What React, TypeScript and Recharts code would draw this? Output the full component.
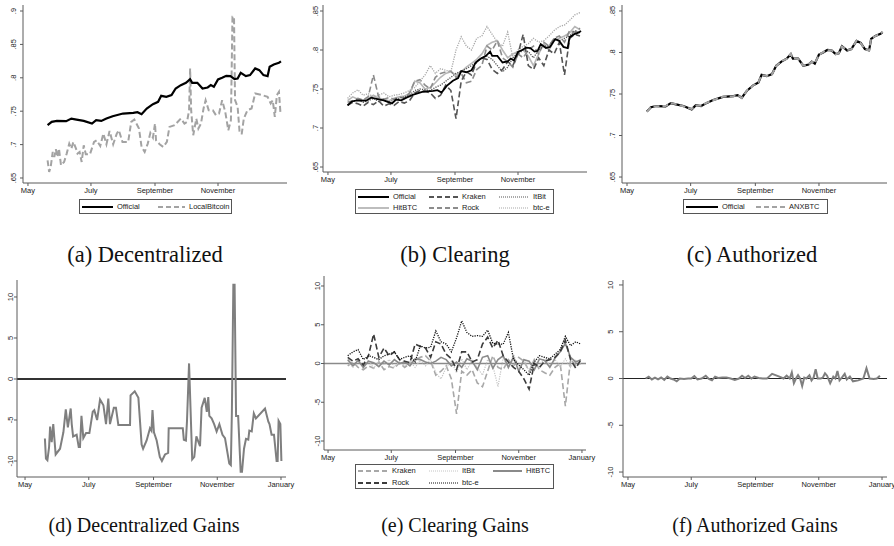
import React from 'react';
import { LineChart, Line, XAxis, YAxis, ReferenceLine } from 'recharts';

const SANS = "'Liberation Sans', Arial, sans-serif";
const SERIF = "'Liberation Serif', 'Times New Roman', serif";
const AXIS = '#5a5a5a';

// x values are days since May 1
const MONTH_TICKS = [0, 61, 123, 184];
const MONTH_TICKS_JAN = [0, 61, 123, 184, 245];
const MONTHS: Record<number, string> = { 0: 'May', 61: 'July', 123: 'September', 184: 'November', 245: 'January' };
const PRICE_TICKS_A = [0.65, 0.7, 0.75, 0.8, 0.85, 0.9];
const PRICE_TICKS = [0.65, 0.7, 0.75, 0.8, 0.85];
const GAIN_TICKS = [-10, -5, 0, 5, 10];

// official rate
const OFF_DAYS = [19, 23, 28, 37, 42, 47, 54, 62, 66, 71, 76, 82, 92, 102, 106, 110, 115, 121, 126, 129, 134, 139, 143, 148, 153, 157, 159, 164, 169, 174, 177, 180, 184, 188, 192, 196, 200, 203, 206, 211, 215, 220, 224, 228, 232, 234, 238, 243, 245];
const OFF_VALS = [.729, .734, .7355, .735, .739, .7375, .7355, .7315, .7365, .7355, .739, .7425, .7465, .7475, .7485, .7455, .754, .7605, .764, .773, .7715, .774, .784, .789, .7925, .798, .7925, .7925, .784, .7855, .789, .7865, .7975, .8, .803, .8025, .798, .799, .8075, .8025, .804, .814, .8115, .804, .8025, .8165, .82, .8225, .8245];
const ANX_VALS = [.7285, .7345, .7352, .7355, .7388, .7378, .7352, .7318, .7362, .7358, .7392, .7422, .7468, .7472, .7488, .7452, .7542, .7602, .7645, .7728, .7718, .7738, .7838, .7895, .7922, .7985, .7928, .7922, .7842, .7858, .7888, .7868, .7972, .8005, .8028, .8028, .7978, .7992, .8072, .8028, .8038, .8142, .8112, .8042, .8022, .8168, .8198, .8228, .8248];

// LocalBitcoin
const LB_DAYS = [19, 20.5, 22, 24, 25.5, 27, 28.5, 30, 32, 35, 37.5, 40, 42, 44, 46.5, 48, 50, 52, 54, 56, 60, 64, 66.5, 70, 73, 76, 79, 82.5, 86, 88, 91.5, 97, 100, 103, 107.5, 110, 113, 116, 118.5, 121, 123, 124, 127.5, 131, 134.5, 137, 142, 148, 151.5, 154, 156, 157, 158, 160, 163, 165, 167.5, 170, 172, 175, 179, 182, 185, 188, 191, 194, 196.5, 198, 199.5, 200.5, 203, 205, 207, 209, 212.5, 216.5, 220, 227, 232, 235, 237, 239, 241, 243, 244.5];
const LB_VALS = [.6765, .659, .6665, .689, .6815, .693, .6815, .694, .669, .674, .6865, .7015, .694, .704, .694, .6865, .689, .674, .699, .6855, .6855, .704, .7065, .698, .7165, .7005, .7205, .7005, .7165, .7215, .704, .704, .734, .7375, .724, .6965, .689, .7015, .7175, .7105, .7315, .7065, .7005, .6965, .704, .7265, .729, .739, .7315, .734, .7515, .814, .7515, .714, .739, .724, .7315, .754, .7665, .7515, .7515, .744, .7465, .7665, .749, .7215, .7365, .8915, .8915, .7665, .7565, .7165, .7165, .739, .7515, .754, .7765, .774, .7715, .7615, .7665, .7415, .774, .779, .7465];

// clearing exchanges (every 5 days)
const GRID = [19, 24, 29, 34, 39, 44, 49, 54, 59, 64, 69, 74, 79, 84, 89, 94, 99, 104, 109, 114, 119, 124, 129, 134, 139, 144, 149, 154, 159, 164, 169, 174, 179, 184, 189, 194, 199, 204, 209, 214, 219, 224, 229, 234, 239, 244];
const HIT_VALS = [.735, .740, .737, .735, .738, .742, .738, .737, .735, .738, .740, .741, .744, .760, .758, .750, .752, .758, .765, .770, .772, .768, .772, .778, .783, .788, .795, .806, .810, .812, .800, .790, .795, .798, .800, .792, .780, .795, .808, .800, .812, .815, .818, .822, .830, .826];
const KRAKEN_VALS = [.729, .733, .731, .728, .733, .730, .735, .728, .731, .729, .734, .732, .735, .745, .748, .747, .745, .738, .742, .755, .748, .712, .760, .772, .768, .785, .790, .788, .775, .770, .775, .785, .780, .795, .820, .780, .775, .790, .780, .800, .795, .810, .768, .815, .820, .818];
const ROCK_VALS = [.733, .735, .738, .736, .740, .768, .740, .737, .739, .737, .740, .738, .745, .760, .762, .755, .750, .765, .770, .772, .773, .765, .770, .758, .760, .775, .780, .805, .800, .812, .790, .785, .778, .795, .790, .800, .805, .795, .810, .805, .815, .818, .810, .825, .822, .828];
const ITBIT_VALS = [.730, .734, .736, .733, .735, .738, .734, .736, .733, .736, .738, .740, .742, .748, .750, .749, .748, .752, .755, .760, .765, .770, .773, .776, .780, .785, .790, .792, .788, .780, .772, .778, .790, .795, .800, .798, .790, .800, .805, .805, .815, .812, .815, .818, .825, .822];
const BTCE_VALS = [.738, .745, .749, .742, .744, .740, .742, .745, .740, .742, .743, .745, .748, .752, .760, .768, .780, .770, .776, .774, .772, .800, .817, .805, .800, .815, .818, .830, .820, .810, .805, .823, .790, .800, .805, .808, .815, .810, .812, .818, .825, .830, .832, .838, .845, .848];

// gains, percent
const D_DAYS = [19, 20, 21.4, 23, 24, 25.5, 27, 29.3, 33.5, 36.7, 39, 41, 43.7, 44.7, 46, 49.4, 51.4, 52.6, 54, 55.8, 58.4, 61.6, 64.8, 66.3, 69, 71.8, 75, 77.5, 79.7, 81.3, 85, 87, 89.3, 100.5, 101, 105, 108.5, 111.6, 113, 116.4, 119.6, 121, 122, 123.4, 126, 129, 131, 134, 137, 137.5, 151, 152, 154, 155, 157, 160, 162, 164, 167.5, 169, 172, 174, 175.4, 176.4, 178.6, 181, 183.4, 186, 189, 191.4, 195.5, 197, 198, 199.4, 200.6, 202, 204, 206.4, 207.7, 209.6, 211.5, 213.7, 214.7, 217, 219, 221, 229.7, 232.9, 234, 236, 238.3, 240.8, 241.8, 242.7, 244.4, 245.4];
const D_VALS = [-7.25, -9.7, -9.9, -8.3, -5.8, -7.7, -5.5, -9.2, -8.5, -6.5, -3.7, -5.9, -3.6, -5.5, -7.0, -6.8, -8.3, -8.3, -4.5, -7.2, -6.6, -6.6, -4.0, -3.8, -5.0, -2.5, -3.2, -5.5, -2.4, -5.5, -3.5, -3.5, -5.6, -5.6, -2.0, -1.5, -2.3, -8.0, -8.5, -7.5, -6.0, -6.3, -3.8, -6.5, -7.5, -9.5, -10.0, -9.2, -9.0, -6.0, -6.0, -7.4, -7.5, -5.2, 1.9, -9.8, -9.5, -7.0, -8.2, -3.5, -2.3, -4.0, -2.2, -4.5, -4.8, -5.5, -6.4, -5.5, -6.8, -7.2, -10.3, -10.5, -4.0, 11.5, 11.5, -4.5, -4.5, -11.3, -11.3, -8.5, -7.3, -7.4, -6.3, -6.4, -4.2, -4.8, -3.6, -5.2, -5.5, -6.8, -6.8, -10.0, -10.0, -5.1, -5.5, -10.0];

const E_KRAKEN = [-0.3, 0.2, -0.5, -0.8, -0.3, -0.6, 0.2, -0.8, -0.4, -0.6, 0.1, -0.5, 0.0, 0.4, 0.8, 1.0, 0.3, -1.5, -1.0, -0.3, -2.0, -6.5, -1.0, -1.5, -0.8, -2.5, -3.0, -1.0, 1.0, -0.5, -0.8, 0.5, -0.3, 0.8, 0.3, -1.0, 0.5, -0.8, -1.2, -1.5, -0.5, 0.0, -5.5, 0.5, -0.2, 0.0];
const E_ITBIT = [0.2, -0.5, 0.5, -0.3, 0.4, -0.6, 0.3, -0.2, 0.5, -0.4, 0.2, -0.3, 0.3, -0.5, 0.4, -0.3, 0.5, -1.2, -2.0, -0.5, 0.3, -1.2, 0.6, -0.8, 0.4, -0.5, -1.5, 0.5, -0.3, -3.0, 0.8, -0.6, 1.2, -0.8, 0.5, -1.0, 0.3, -0.5, 0.8, -0.3, 0.5, -0.4, 0.6, -0.5, 0.4, -0.2];
const E_HIT = [0.5, -0.3, 0.4, -0.5, 0.3, 0.1, -0.4, 0.3, -0.2, 0.5, 0.0, 0.2, -0.3, 0.6, 0.5, 0.2, 0.0, 0.3, 0.8, 0.5, -0.3, 0.2, -0.5, 0.6, 0.3, -0.8, 0.8, 1.0, -0.6, 0.5, 1.0, -0.5, 0.8, -1.0, 0.5, 0.3, -0.8, 0.6, 0.4, -0.5, 0.7, 1.5, 2.6, 0.8, 0.2, 0.5];
const E_ROCK = [0.8, 0.3, 0.6, -0.2, 1.0, 3.8, 0.8, 2.0, 1.0, 1.5, 0.5, 0.3, 0.1, 2.5, 2.2, 2.0, 0.8, 2.8, 2.5, 1.2, 0.6, -0.8, 1.5, 1.5, 0.2, 0.5, 2.5, 3.4, 2.0, 3.0, 1.0, 0.2, -0.5, -1.0, -2.0, -3.3, 0.0, -0.5, 0.3, 0.5, 0.8, 1.5, 3.0, 0.5, -0.6, 0.5];
const E_BTCE = [1.0, 1.5, 1.8, 0.5, 1.0, 0.8, 0.5, 1.0, 1.2, 1.5, 0.5, 0.8, 1.0, 0.2, 2.3, 2.0, 2.1, 4.2, 2.8, 2.5, 1.5, 3.3, 5.5, 4.0, 3.5, 3.6, 3.5, 4.3, 2.6, 2.5, 2.5, 4.0, 0.5, -0.2, -0.8, -1.5, 0.2, 1.0, 0.8, 0.6, 1.2, 1.8, 3.5, 2.3, 2.8, 2.5];

const F_DAYS = [17, 20, 23, 26, 29, 32, 35, 38, 41, 44, 47, 50, 54, 58, 61, 64, 67, 71, 75, 78, 81, 84, 87, 91, 95, 99, 103, 107, 110, 113, 116, 119, 122, 126, 130, 134, 136, 139, 146, 150, 153, 156, 158, 160, 162, 164, 166, 168, 170, 172, 175, 177, 179, 181, 183, 186, 188, 190, 192, 195, 198, 200, 202, 204, 207, 209, 211, 214, 217, 222, 227, 230, 233, 237, 240, 243];
const F_VALS = [0.0, 0.2, -0.1, 0.1, -0.1, 0.1, -0.15, 0.2, 0.0, -0.1, -0.3, 0.0, -0.05, 0.0, 0.0, 0.25, -0.1, 0.0, 0.3, -0.05, -0.2, 0.2, 0.05, 0.1, 0.1, 0.0, -0.15, 0.0, 0.3, 0.05, 0.3, 0.0, 0.2, 0.05, 0.0, 0.0, 0.2, 0.5, 0.2, 0.0, 0.3, 0.0, 0.65, -0.5, 0.0, 0.35, 0.0, -0.8, 0.1, 0.0, 0.35, -0.2, 0.1, 1.0, 0.0, 0.0, 0.1, 0.55, 0.3, -0.5, 0.2, 0.0, 0.8, -0.2, 0.2, 0.5, -0.1, 0.2, -0.3, -0.2, 0.0, 1.1, 0.0, -0.05, 0.0, 0.3];

const pts = (days: number[], vals: number[]) => days.map((d, i) => ({ d, v: vals[i] }));
const priceFmt = (v: number) => String(v).replace(/^0/, '');
const gainFmt = (v: number) => String(v);

type Series = { name: string; days: number[]; vals: number[]; stroke: string; width: number; dash?: string };

function YTick(props: any) {
  const { x, y, payload, fmt } = props;
  return (
    <text x={x} y={y} transform={`rotate(-90 ${x} ${y})`} textAnchor="middle" fontSize={7.5} fill="#222" fontFamily={SANS}>
      {fmt(payload.value)}
    </text>
  );
}

function Panel(p: {
  left: number; top: number; width: number; height: number;
  margin: { top: number; right: number; bottom: number; left: number };
  yWidth: number; xDomain: number[]; yDomain: number[]; xTicks: number[]; yTicks: number[];
  yFmt: (v: number) => string; yTickSize: number; yTickMargin: number;
  series: Series[]; zero?: { stroke: string; width: number };
}) {
  return (
    <div style={{ position: 'absolute', left: p.left, top: p.top }}>
      <LineChart width={p.width} height={p.height} margin={p.margin}>
        <XAxis dataKey="d" type="number" domain={p.xDomain} ticks={p.xTicks} interval={0} allowDataOverflow
          tickFormatter={(v: number) => MONTHS[v]} height={17} tickSize={3} tickMargin={2} stroke={AXIS}
          tick={{ fontSize: 7.5, fill: '#222', fontFamily: SANS }} />
        <XAxis xAxisId="top" orientation="top" type="number" domain={[0, 1]} tick={false} tickLine={false} height={0} stroke={AXIS} />
        <YAxis type="number" domain={p.yDomain} ticks={p.yTicks} interval={0} allowDataOverflow width={p.yWidth}
          tickSize={p.yTickSize} tickMargin={p.yTickMargin} stroke={AXIS} tick={<YTick fmt={p.yFmt} />} />
        <YAxis yAxisId="right" orientation="right" type="number" domain={[0, 1]} tick={false} tickLine={false} width={0} stroke={AXIS} />
        {p.zero && <ReferenceLine y={0} stroke={p.zero.stroke} strokeWidth={p.zero.width} />}
        {p.series.map((s) => (
          <Line key={s.name} data={pts(s.days, s.vals)} dataKey="v" type="linear" stroke={s.stroke} strokeWidth={s.width}
            strokeDasharray={s.dash} dot={false} isAnimationActive={false} />
        ))}
      </LineChart>
    </div>
  );
}

type LegendItem = { label: string; stroke: string; width: number; dash?: string; x: number; y: number; sw: number };

function LegendBox({ left, top, width, height, items }: { left: number; top: number; width: number; height: number; items: LegendItem[] }) {
  return (
    <div style={{ position: 'absolute', left, top, width, height, border: '1px solid #555', boxSizing: 'border-box' }}>
      {items.map((it) => (
        <div key={it.label} style={{ position: 'absolute', left: it.x, top: it.y - 5, height: 10, display: 'flex', alignItems: 'center' }}>
          <svg width={it.sw} height={10} style={{ display: 'block' }}>
            <line x1={0} y1={5} x2={it.sw} y2={5} stroke={it.stroke} strokeWidth={it.width} strokeDasharray={it.dash} />
          </svg>
          <span style={{ marginLeft: 4, fontSize: 7.5, fontFamily: SANS, color: '#222', lineHeight: '10px', whiteSpace: 'nowrap' }}>{it.label}</span>
        </div>
      ))}
    </div>
  );
}

function Caption({ cx, top, size, text }: { cx: number; top: number; size: number; text: string }) {
  return (
    <div style={{ position: 'absolute', left: cx - 150, top, width: 300, textAlign: 'center', fontFamily: SERIF, fontSize: size, lineHeight: `${size}px`, color: '#111' }}>
      {text}
    </div>
  );
}

const DASH = '6 3';
const DOT = '1.2 1.2';

export default function App() {
  return (
    <div style={{ position: 'absolute', left: 0, top: 0, width: 894, height: 546, background: '#fff', overflow: 'hidden' }}>
      <Panel left={0} top={0} width={300} height={200} margin={{ top: 5, right: 13, bottom: 0, left: 0 }} yWidth={23}
        xDomain={[-4.8, 250.8]} yDomain={[0.6425, 0.909]} xTicks={MONTH_TICKS} yTicks={PRICE_TICKS_A} yFmt={priceFmt}
        yTickSize={3} yTickMargin={4}
        series={[
          { name: 'LocalBitcoin', days: LB_DAYS, vals: LB_VALS, stroke: '#a3a3a3', width: 2, dash: DASH },
          { name: 'Official', days: OFF_DAYS, vals: OFF_VALS, stroke: '#000', width: 2.2 },
        ]} />
      <Panel left={300} top={0} width={300} height={189} margin={{ top: 5, right: 13, bottom: 0, left: 0 }} yWidth={23}
        xDomain={[-4.8, 250.8]} yDomain={[0.6436, 0.8577]} xTicks={MONTH_TICKS} yTicks={PRICE_TICKS} yFmt={priceFmt}
        yTickSize={3} yTickMargin={2}
        series={[
          { name: 'HitBTC', days: GRID, vals: HIT_VALS, stroke: '#b8b8b8', width: 1.6 },
          { name: 'Rock', days: GRID, vals: ROCK_VALS, stroke: '#8c8c8c', width: 1.6, dash: DASH },
          { name: 'btc-e', days: GRID, vals: BTCE_VALS, stroke: '#a8a8a8', width: 1.3, dash: DOT },
          { name: 'ItBit', days: GRID, vals: ITBIT_VALS, stroke: '#555', width: 1.3, dash: DOT },
          { name: 'Kraken', days: GRID, vals: KRAKEN_VALS, stroke: '#555', width: 1.6, dash: DASH },
          { name: 'Official', days: OFF_DAYS, vals: OFF_VALS, stroke: '#000', width: 1.8 },
        ]} />
      <Panel left={599} top={0} width={295} height={200} margin={{ top: 5, right: 7, bottom: 0, left: 0 }} yWidth={23}
        xDomain={[-4.8, 249.2]} yDomain={[0.6428, 0.8572]} xTicks={MONTH_TICKS} yTicks={PRICE_TICKS} yFmt={priceFmt}
        yTickSize={3} yTickMargin={4}
        series={[
          { name: 'Official', days: OFF_DAYS, vals: OFF_VALS, stroke: '#000', width: 2.2 },
          { name: 'ANXBTC', days: OFF_DAYS, vals: ANX_VALS, stroke: '#a3a3a3', width: 2, dash: DASH },
        ]} />
      <Panel left={0} top={270} width={300} height={224} margin={{ top: 10, right: 14, bottom: 0, left: 0 }} yWidth={17}
        xDomain={[-7.7, 249.8]} yDomain={[-11.95, 12.07]} xTicks={MONTH_TICKS_JAN} yTicks={GAIN_TICKS} yFmt={gainFmt}
        yTickSize={3} yTickMargin={1} zero={{ stroke: '#333', width: 2 }}
        series={[{ name: 'Decentralized', days: D_DAYS, vals: D_VALS, stroke: '#7f7f7f', width: 2 }]} />
      <Panel left={300} top={270} width={300} height={197} margin={{ top: 6, right: 14, bottom: 0, left: 0 }} yWidth={24}
        xDomain={[-3.9, 248.9]} yDomain={[-11.16, 11.29]} xTicks={MONTH_TICKS_JAN} yTicks={GAIN_TICKS} yFmt={gainFmt}
        yTickSize={3} yTickMargin={1} zero={{ stroke: '#8a8a8a', width: 1.5 }}
        series={[
          { name: 'Kraken', days: GRID, vals: E_KRAKEN, stroke: '#a8a8a8', width: 1.6, dash: DASH },
          { name: 'ItBit', days: GRID, vals: E_ITBIT, stroke: '#c4c4c4', width: 1.2, dash: DOT },
          { name: 'HitBTC', days: GRID, vals: E_HIT, stroke: '#8a8a8a', width: 1.6 },
          { name: 'Rock', days: GRID, vals: E_ROCK, stroke: '#3c3c3c', width: 1.6, dash: DASH },
          { name: 'btc-e', days: GRID, vals: E_BTCE, stroke: '#111', width: 1.3, dash: DOT },
        ]} />
      <Panel left={599} top={270} width={295} height={224} margin={{ top: 10, right: 7, bottom: 0, left: 0 }} yWidth={24}
        xDomain={[-4.8, 249.8]} yDomain={[-10.53, 10.53]} xTicks={MONTH_TICKS_JAN} yTicks={GAIN_TICKS} yFmt={gainFmt}
        yTickSize={4} yTickMargin={6} zero={{ stroke: '#222', width: 1 }}
        series={[{ name: 'Authorized', days: F_DAYS, vals: F_VALS, stroke: '#7f7f7f', width: 2 }]} />

      <LegendBox left={79} top={199} width={153} height={15} items={[
        { label: 'Official', stroke: '#000', width: 2, x: 2, y: 7, sw: 31 },
        { label: 'LocalBitcoin', stroke: '#a3a3a3', width: 2, dash: '5 3', x: 78, y: 7, sw: 27 },
      ]} />
      <LegendBox left={355} top={189} width={199} height={25} items={[
        { label: 'Official', stroke: '#000', width: 2, x: 2, y: 7, sw: 31 },
        { label: 'Kraken', stroke: '#555', width: 2, dash: '5 3', x: 73, y: 7, sw: 29 },
        { label: 'ItBit', stroke: '#555', width: 1.2, dash: '1 1', x: 143, y: 7, sw: 30 },
        { label: 'HitBTC', stroke: '#bdbdbd', width: 2, x: 2, y: 18, sw: 31 },
        { label: 'Rock', stroke: '#8c8c8c', width: 2, dash: '5 3', x: 73, y: 18, sw: 29 },
        { label: 'btc-e', stroke: '#a8a8a8', width: 1.2, dash: '1 1', x: 143, y: 18, sw: 30 },
      ]} />
      <LegendBox left={683} top={199} width={145} height={15} items={[
        { label: 'Official', stroke: '#000', width: 2, x: 2, y: 7, sw: 32 },
        { label: 'ANXBTC', stroke: '#a3a3a3', width: 2, dash: '5 3', x: 72, y: 7, sw: 29 },
      ]} />
      <LegendBox left={355} top={464} width={199} height={25} items={[
        { label: 'Kraken', stroke: '#a8a8a8', width: 2, dash: '5 3', x: 2, y: 6, sw: 30 },
        { label: 'ItBit', stroke: '#c4c4c4', width: 1, dash: '1 1', x: 73, y: 6, sw: 29 },
        { label: 'HitBTC', stroke: '#8a8a8a', width: 2, x: 137, y: 6, sw: 29 },
        { label: 'Rock', stroke: '#3c3c3c', width: 2, dash: '5 3', x: 2, y: 18, sw: 30 },
        { label: 'btc-e', stroke: '#111', width: 1.2, dash: '1 1', x: 73, y: 18, sw: 29 },
      ]} />

      <Caption cx={145} top={244} size={22.5} text="(a) Decentralized" />
      <Caption cx={455} top={244} size={22.5} text="(b) Clearing" />
      <Caption cx={752} top={244} size={22.5} text="(c) Authorized" />
      <Caption cx={144} top={515} size={20} text="(d) Decentralized Gains" />
      <Caption cx={455} top={515} size={20} text="(e) Clearing Gains" />
      <Caption cx={755} top={515} size={20} text="(f) Authorized Gains" />
    </div>
  );
}
